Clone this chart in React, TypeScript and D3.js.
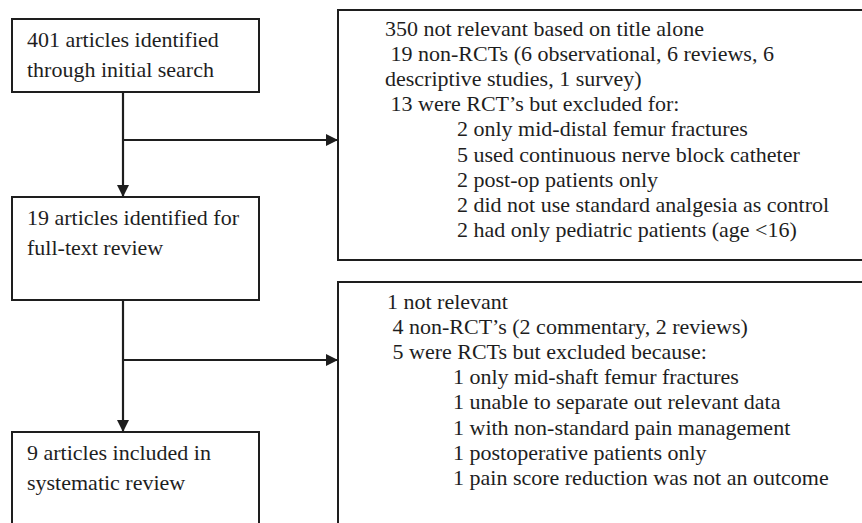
import React, { useRef, useEffect } from 'react';
import * as d3 from 'd3';

// left column boxes (main flow)
const flowBoxes = [
  ['401 articles identified', 'through initial search'],
  ['19 articles identified for', 'full-text review'],
  ['9 articles included in', 'systematic review'],
];

// exclusion boxes on the right, [indent level, text]
const exclusions1: [number, string][] = [
  [0, '350 not relevant based on title alone'],
  [0, ' 19 non-RCTs (6 observational, 6 reviews, 6'],
  [0, 'descriptive studies, 1 survey)'],
  [0, ' 13 were RCT\u2019s but excluded for:'],
  [1, '2 only mid-distal femur fractures'],
  [1, '5 used continuous nerve block catheter'],
  [1, '2 post-op patients only'],
  [1, '2 did not use standard analgesia as control'],
  [1, '2 had only pediatric patients (age <16)'],
];

const exclusions2: [number, string][] = [
  [0, '1 not relevant'],
  [0, ' 4 non-RCT\u2019s (2 commentary, 2 reviews)'],
  [0, ' 5 were RCTs but excluded because:'],
  [1, '1 only mid-shaft femur fractures'],
  [1, '1 unable to separate out relevant data'],
  [1, '1 with non-standard pain management'],
  [1, '1 postoperative patients only'],
  [1, '1 pain score reduction was not an outcome'],
];

const App = () => {
  const width = 862;
  const height = 523;
  const ref = useRef<SVGSVGElement>(null);

  useEffect(() => {
    if (!ref.current) return;
    const svg = d3.select(ref.current);
    svg.selectAll('*').remove();

    const ink = '#1e1e1e';
    const font = '"Liberation Serif", "Times New Roman", serif';

    const defs = svg.append('defs');
    defs.append('marker')
      .attr('id', 'arr')
      .attr('viewBox', '0 0 12 12')
      .attr('refX', 12)
      .attr('refY', 6)
      .attr('markerWidth', 12)
      .attr('markerHeight', 12)
      .attr('markerUnits', 'userSpaceOnUse')
      .attr('orient', 'auto')
      .append('path')
      .attr('d', 'M0,0 L12,6 L0,12 Z')
      .attr('fill', ink);

    // left boxes: y top, y bottom
    const left = { x: 12, w: 247 };
    const leftY = [[19, 92], [197, 300], [432, 560]];
    const stemX = 123;

    flowBoxes.forEach((lines, i) => {
      const [y0, y1] = leftY[i];
      svg.append('rect')
        .attr('x', left.x).attr('y', y0)
        .attr('width', left.w).attr('height', y1 - y0)
        .attr('fill', 'white').attr('stroke', ink).attr('stroke-width', 2);
      svg.append('g').selectAll('text')
        .data(lines)
        .join('text')
        .attr('x', 27)
        .attr('y', (_, j) => y0 + 28 + j * 29.5)
        .attr('font-family', font)
        .attr('font-size', 22)
        .attr('fill', ink)
        .text(d => d);
    });

    // right boxes
    const rightX = 338;
    const rightBoxes = [
      { y0: 10, y1: 260, lines: exclusions1, base: 36, indent: [385, 457] },
      { y0: 282, y1: 560, lines: exclusions2, base: 309, indent: [387, 453] },
    ];
    rightBoxes.forEach(b => {
      svg.append('rect')
        .attr('x', rightX).attr('y', b.y0)
        .attr('width', 600).attr('height', b.y1 - b.y0)
        .attr('fill', 'white').attr('stroke', ink).attr('stroke-width', 2);
      svg.append('g').selectAll('text')
        .data(b.lines)
        .join('text')
        .attr('x', d => b.indent[d[0]])
        .attr('y', (_, j) => b.base + j * 25.1)
        .attr('font-family', font)
        .attr('font-size', 22)
        .attr('fill', ink)
        .style('white-space', 'pre')
        .text(d => d[1]);
    });

    // connectors
    const links = [
      { from: 92, to: 197, branch: 140 },
      { from: 300, to: 432, branch: 360 },
    ];
    links.forEach(l => {
      svg.append('line')
        .attr('x1', stemX).attr('x2', stemX)
        .attr('y1', l.from).attr('y2', l.to)
        .attr('stroke', ink).attr('stroke-width', 2.2)
        .attr('marker-end', 'url(#arr)');
      svg.append('line')
        .attr('x1', stemX).attr('x2', rightX)
        .attr('y1', l.branch).attr('y2', l.branch)
        .attr('stroke', ink).attr('stroke-width', 2.2)
        .attr('marker-end', 'url(#arr)');
    });
  }, []);

  return (
    <svg
      ref={ref}
      width={width}
      height={height}
      style={{ position: 'absolute', left: 0, top: 0, background: 'white' }}
    />
  );
};

export default App;
